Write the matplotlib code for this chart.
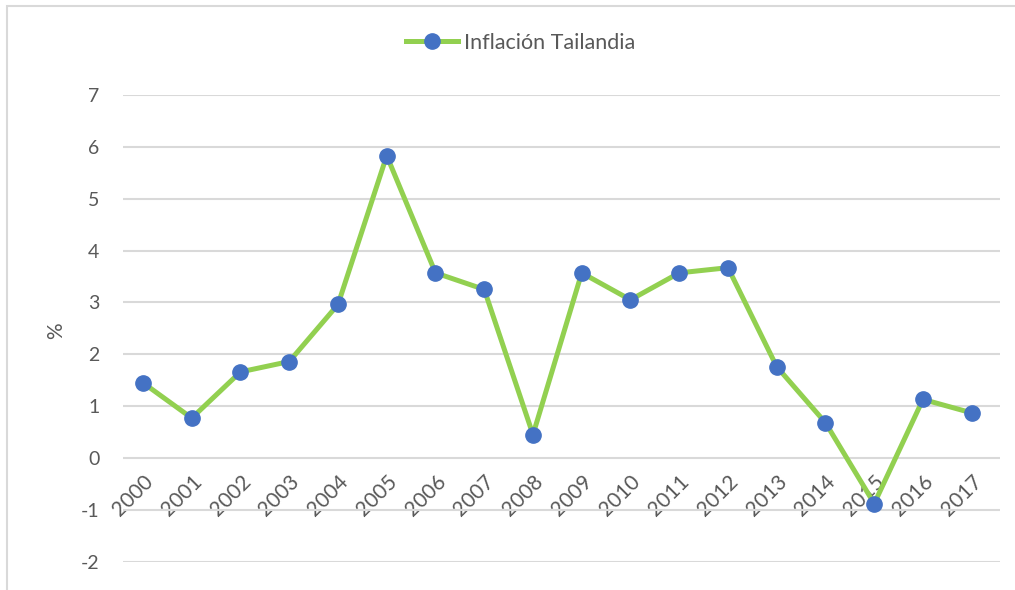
import matplotlib
matplotlib.use("Agg")
import matplotlib.pyplot as plt
from matplotlib.patches import Rectangle

# Annual inflation, Thailand (%)
years = ["2000", "2001", "2002", "2003", "2004", "2005", "2006", "2007", "2008",
         "2009", "2010", "2011", "2012", "2013", "2014", "2015", "2016", "2017"]
inflation = [1.45, 0.77, 1.66, 1.86, 2.96, 5.83, 3.57, 3.25, 0.45,
             3.57, 3.05, 3.57, 3.67, 1.76, 0.68, -0.88, 1.13, 0.87]
y_ticks = [-2, -1, 0, 1, 2, 3, 4, 5, 6, 7]

text_color = "#595959"
grid_color = "#d9d9d9"
line_color = "#92d050"
marker_color = "#4472c4"

plt.rcParams["font.family"] = ["Lato", "DejaVu Sans"]
plt.rcParams["axes.unicode_minus"] = False

W, H = 1015, 590
fig = plt.figure(figsize=(W / 100, H / 100), dpi=100)

# chart frame (top and left edges visible)
fig.patches.append(Rectangle((7 / W, -0.1), 1.2, 1 - 6 / H + 0.1,
                             transform=fig.transFigure, fill=False,
                             edgecolor=grid_color, linewidth=1.5))

left, right = 123 / W, 1000 / W
y_top, y_bot = 95, 561.7
ax = fig.add_axes([left, 1 - y_bot / H, right - left, (y_bot - y_top) / H])

# category labels sit next to the zero line
ax.spines["bottom"].set_position(("data", 0))
ax.spines["bottom"].set_visible(False)
for s in ["top", "right", "left"]:
    ax.spines[s].set_visible(False)

x = list(range(len(years)))
ax.plot(x, inflation, color=line_color, linewidth=3.6, solid_joinstyle="round",
        marker="o", markersize=11, markerfacecolor=marker_color,
        markeredgecolor=marker_color, label="Inflación Tailandia", zorder=3)

ax.set_ylim(-2, 7)
ax.set_yticks(y_ticks)
ax.set_xlim(-0.41, 17.58)
ax.set_xticks(x)
ax.tick_params(axis="both", length=0, colors=text_color, labelsize=14)
ax.tick_params(axis="y", pad=17)
ax.tick_params(axis="x", pad=10, labelsize=15)
ax.set_xticklabels(years, rotation=45, ha="right", va="top",
                   rotation_mode="anchor")

ax.grid(axis="y", color=grid_color, linewidth=1.5)
ax.set_axisbelow(True)

ax.set_ylabel("%", color=text_color, fontsize=15)
ax.yaxis.set_label_coords((66 - 123) / 877, 0.496)

fig.legend(loc="center", bbox_to_anchor=(521 / W, 1 - 43 / H), frameon=False,
           fontsize=15.5, labelcolor=text_color, handlelength=2.4,
           handletextpad=0.3)

fig.savefig("out.png", dpi=100)
